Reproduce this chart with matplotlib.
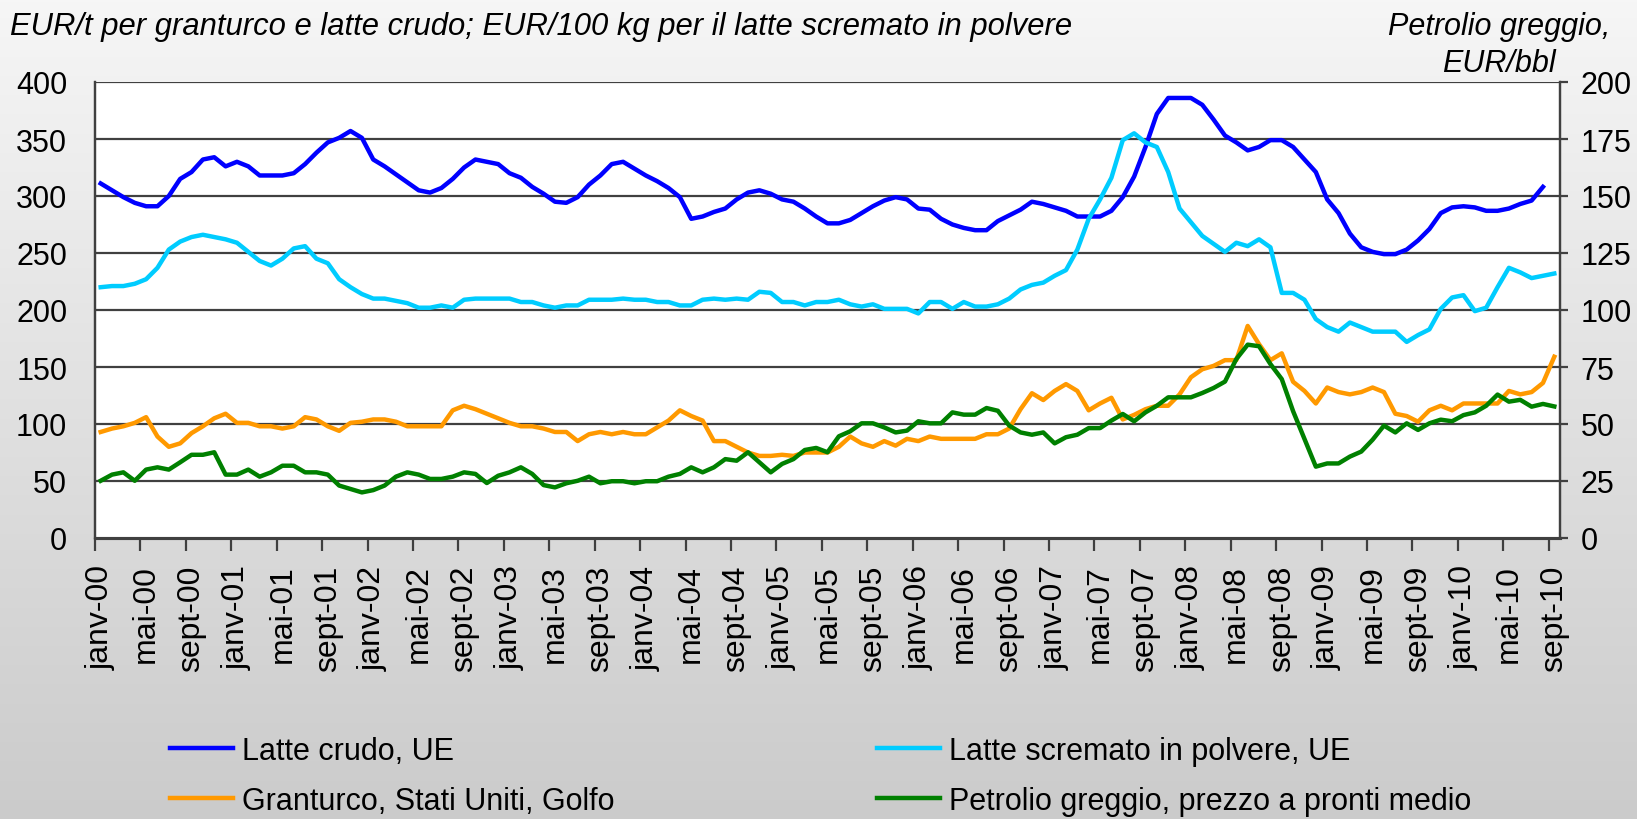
import numpy as np
import matplotlib
matplotlib.use("Agg")
import matplotlib.pyplot as plt
from matplotlib.colors import LinearSegmentedColormap

plt.rcParams['font.family'] = ['Liberation Sans', 'DejaVu Sans']

# ---------------- data (monthly, janv-00 .. sept-10) ----------------
months_fr = ["janv", "févr", "mars", "avr", "mai", "juin",
             "juil", "août", "sept", "oct", "nov", "déc"]
dates = [f"{months_fr[m]}-{y % 100:02d}" for y in range(2000, 2011) for m in range(12)][:129]

latte_crudo = [
    311, 305, 299, 294, 291, 291, 300, 315, 321, 332, 334, 326,   # 2000
    330, 326, 318, 318, 318, 320, 328, 338, 347, 351, 357, 351,   # 2001
    332, 326, 319, 312, 305, 303, 307, 315, 325, 332, 330, 328,   # 2002
    320, 316, 308, 302, 295, 294, 299, 310, 318, 328, 330, 324,   # 2003
    318, 313, 307, 299, 280, 282, 286, 289, 297, 303, 305, 302,   # 2004
    297, 295, 289, 282, 276, 276, 279, 285, 291, 296, 299, 297,   # 2005
    289, 288, 280, 275, 272, 270, 270, 278, 283, 288, 295, 293,   # 2006
    290, 287, 282, 282, 282, 287, 299, 317, 343, 372, 386, 386,   # 2007
    386, 380, 367, 353, 347, 340, 343, 349, 349, 343, 332, 321,   # 2008
    297, 285, 267, 255, 251, 249, 249, 253, 261, 271, 285, 290,   # 2009
    291, 290, 287, 287, 289, 293, 296, 308,                       # 2010
]

latte_scremato = [
    220, 221, 221, 223, 227, 237, 253, 260, 264, 266, 264, 262,
    259, 251, 243, 239, 245, 254, 256, 245, 241, 227, 220, 214,
    210, 210, 208, 206, 202, 202, 204, 202, 209, 210, 210, 210,
    210, 207, 207, 204, 202, 204, 204, 209, 209, 209, 210, 209,
    209, 207, 207, 204, 204, 209, 210, 209, 210, 209, 216, 215,
    207, 207, 204, 207, 207, 209, 205, 203, 205, 201, 201, 201,
    197, 207, 207, 201, 207, 203, 203, 205, 210, 218, 222, 224,
    230, 235, 253, 280, 297, 316, 349, 355, 347, 343, 321, 289,
    277, 265, 258, 251, 259, 256, 262, 255, 215, 215, 209, 192,
    185, 181, 189, 185, 181, 181, 181, 172, 178, 183, 201, 211,
    213, 199, 202, 220, 237, 233, 228, 230, 232,
]

granturco = [
    93, 96, 98, 101, 106, 89, 80, 83, 92, 98, 105, 109,
    101, 101, 98, 98, 96, 98, 106, 104, 98, 94, 101, 102,
    104, 104, 102, 98, 98, 98, 98, 112, 116, 113, 109, 105,
    101, 98, 98, 96, 93, 93, 85, 91, 93, 91, 93, 91,
    91, 97, 103, 112, 107, 103, 85, 85, 80, 75, 72, 72,
    73, 72, 75, 75, 75, 80, 89, 83, 80, 85, 81, 87,
    85, 89, 87, 87, 87, 87, 91, 91, 96, 113, 127, 121,
    129, 135, 129, 112, 118, 123, 104, 108, 113, 116, 116, 126,
    141, 148, 151, 156, 156, 186, 170, 156, 162, 137, 129, 118,
    132, 128, 126, 128, 132, 128, 109, 107, 102, 112, 116, 112,
    118, 118, 118, 118, 129, 126, 128, 136, 159,
]

petrolio = [
    25.1, 27.8, 28.8, 25.1, 30.0, 31.0, 30.0, 33.2, 36.5, 36.5, 37.6, 27.8,
    27.8, 30.0, 26.9, 28.8, 31.7, 31.7, 28.8, 28.8, 27.8, 23.0, 21.5, 20.0,
    21.0, 23.0, 26.9, 28.8, 27.8, 25.9, 25.9, 26.9, 28.8, 28.1, 24.1, 27.3,
    28.8, 31.0, 28.1, 23.2, 22.2, 24.0, 25.1, 26.9, 24.0, 24.9, 24.9, 24.0,
    24.9, 24.9, 26.9, 28.1, 31.0, 28.8, 31.0, 34.6, 33.9, 37.6, 33.2, 28.8,
    32.5, 34.6, 38.6, 39.5, 37.6, 44.6, 46.8, 50.3, 50.3, 48.5, 46.3, 47.1,
    51.2, 50.3, 50.3, 55.1, 54.1, 54.1, 57.0, 55.8, 49.3, 46.3, 45.3, 46.3,
    41.5, 44.2, 45.3, 48.2, 48.2, 51.5, 54.4, 51.2, 55.1, 58.0, 61.7, 61.7,
    61.7, 63.6, 65.8, 68.6, 78.5, 84.8, 84.1, 76.3, 69.7, 55.6, 43.4, 31.3,
    32.7, 32.7, 35.7, 37.9, 43.1, 49.3, 46.3, 50.3, 47.4, 50.3, 51.9, 51.2,
    53.9, 55.1, 58.0, 62.9, 59.8, 60.6, 57.6, 58.8, 57.7,
]

labels = ["Latte crudo, UE", "Latte scremato in polvere, UE",
          "Granturco, Stati Uniti, Golfo", "Petrolio greggio, prezzo a pronti medio"]
colors = ["#0000FF", "#00CCFF", "#FF9900", "#008000"]

left_title = "EUR/t per granturco e latte crudo; EUR/100 kg per il latte scremato in polvere"
right_title_1 = "Petrolio greggio,"
right_title_2 = "EUR/bbl"

# ---------------- figure ----------------
W, H = 1637, 820
fig = plt.figure(figsize=(W / 100, H / 100), dpi=100)

# background gradient
bg = fig.add_axes([0, 0, 1, 1], zorder=-10)
grad = np.linspace(0, 1, 256).reshape(-1, 1)
cmap = LinearSegmentedColormap.from_list("bg", ["#f6f6f6", "#cbcbcb"])
bg.imshow(grad, aspect="auto", cmap=cmap, extent=[0, 1, 0, 1], origin="upper")
bg.axis("off")

L, R, T, B = 95, 1560, 83, 539
ax = fig.add_axes([L / W, 1 - B / H, (R - L) / W, (B - T) / H])
ax.set_facecolor("white")
ax2 = ax.twinx()

x = np.arange(len(dates))
grid_c = "#404040"

ax.plot(x[:len(latte_crudo)], latte_crudo, color=colors[0], lw=3.2, solid_joinstyle="round", zorder=3)
ax.plot(x[:len(latte_scremato)], latte_scremato, color=colors[1], lw=3.2, solid_joinstyle="round", zorder=3)
ax.plot(x[:len(granturco)], granturco, color=colors[2], lw=3.2, solid_joinstyle="round", zorder=3)
ax2.plot(x[:len(petrolio)], petrolio, color=colors[3], lw=3.2, solid_joinstyle="round", zorder=3)

ax.set_xlim(-0.5, len(dates) - 0.5)
ax.set_ylim(0, 400)
ax2.set_ylim(0, 200)
ax.set_yticks(np.arange(0, 401, 50))
ax2.set_yticks(np.arange(0, 201, 25))

for yv in np.arange(50, 401, 50):
    ax.axhline(yv, color=grid_c, lw=1.6, zorder=1)

ax.set_xticks(x[::4])
ax.set_xticklabels(dates[::4], rotation=90, fontsize=23)
ax.set_xticks(np.arange(-0.5, len(dates), 4), minor=True)
ax.tick_params(axis="x", which="major", length=0, pad=19)
ax.tick_params(axis="x", which="minor", length=9, width=1.6, color=grid_c, direction="out")
ax.tick_params(axis="y", length=0, pad=20, labelsize=22)
ax2.tick_params(axis="y", length=6, width=1.6, color=grid_c, direction="out", pad=9, labelsize=22)

for a in (ax, ax2):
    a.spines["top"].set_visible(False)
    a.spines["left"].set_color(grid_c)
    a.spines["left"].set_linewidth(1.6)
    a.spines["right"].set_color(grid_c)
    a.spines["right"].set_linewidth(1.6)
    a.spines["bottom"].set_color(grid_c)
    a.spines["bottom"].set_linewidth(2.2)

# titles
fig.text(10 / W, 1 - 27 / H, left_title, style="italic", fontsize=22.3, va="center", ha="left")
fig.text(1499 / W, 1 - 27 / H, right_title_1, style="italic", fontsize=22, va="center", ha="center")
fig.text(1499 / W, 1 - 64 / H, right_title_2, style="italic", fontsize=22, va="center", ha="center")

# legend (row-wise: crudo, scremato / granturco, petrolio)
handles = ax.get_lines()[:3] + ax2.get_lines()[:1]
order = [0, 2, 1, 3]
leg = fig.legend([handles[i] for i in order], [labels[i] for i in order],
                 loc="center left", bbox_to_anchor=(170 / W, 1 - 777 / H),
                 ncol=2, frameon=False, fontsize=22, handlelength=2.05,
                 handletextpad=0.3, columnspacing=8.6, labelspacing=0.66,
                 borderpad=0, borderaxespad=0)

fig.savefig("out.png", dpi=100)
